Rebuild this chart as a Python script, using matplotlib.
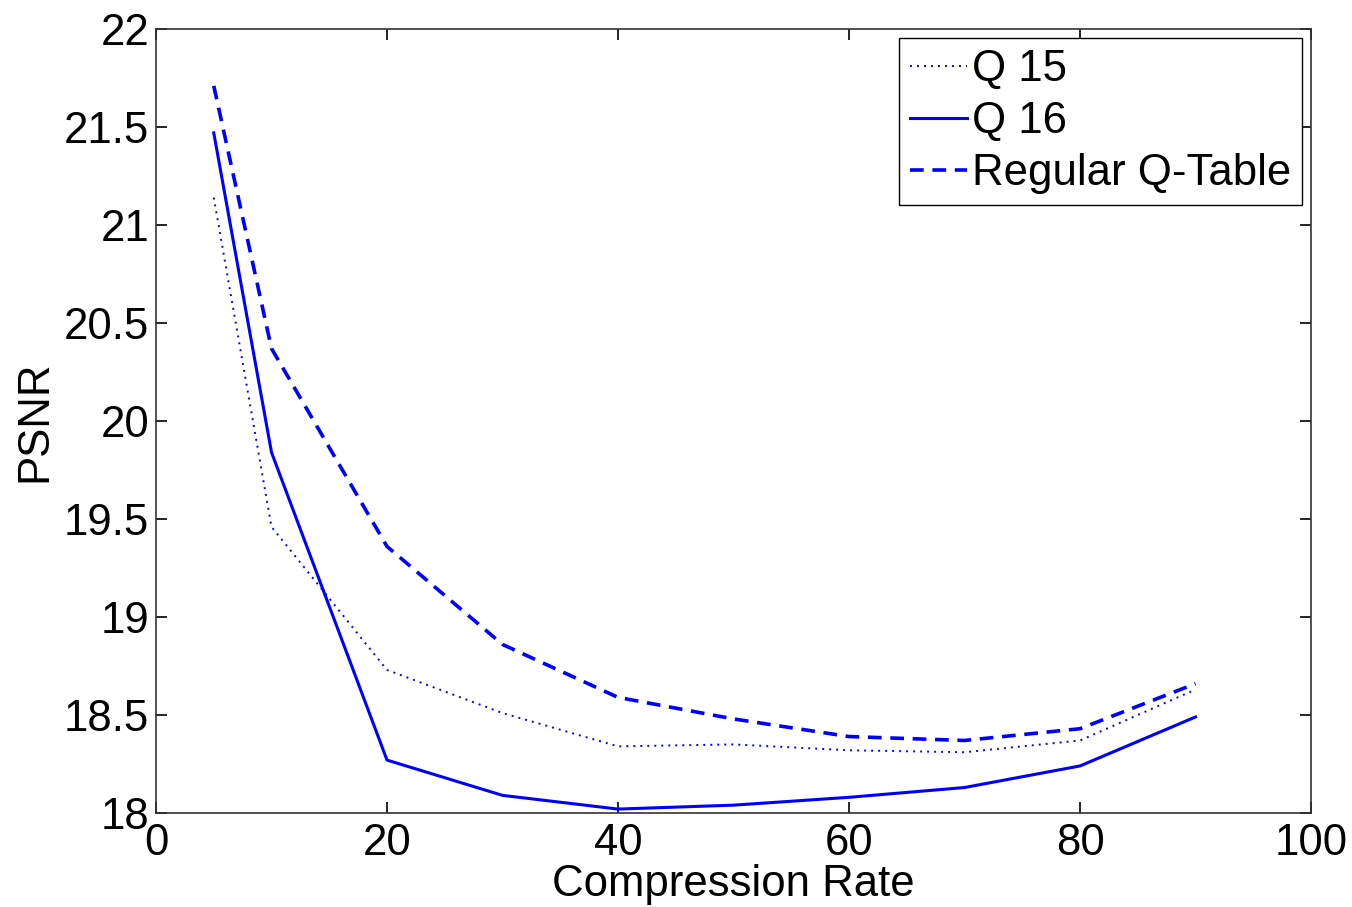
import matplotlib
matplotlib.use('Agg')
import matplotlib.pyplot as plt
from matplotlib.ticker import FuncFormatter

# compression rate vs PSNR for three quantisation tables
rate      = [5, 10, 20, 30, 40, 50, 60, 70, 80, 90]
psnr_q15  = [21.14, 19.46, 18.73, 18.51, 18.34, 18.35, 18.32, 18.31, 18.37, 18.63]
psnr_q16  = [21.47, 19.84, 18.27, 18.09, 18.02, 18.04, 18.08, 18.13, 18.24, 18.49]
psnr_reg  = [21.71, 20.37, 19.36, 18.86, 18.59, 18.48, 18.39, 18.37, 18.43, 18.66]
labels    = ['Q 15', 'Q 16', 'Regular Q-Table']

plt.rcParams['font.family'] = ['Liberation Sans', 'DejaVu Sans']
FS = 31.5

fig = plt.figure(figsize=(13.52, 9.07), dpi=100)
ax = fig.add_axes([156/1352, 1 - 813/907, (1311 - 156)/1352, (813 - 29)/907])

ax.plot(rate, psnr_q15, color='#0000ff', linewidth=1.4, linestyle=(0, (1, 2.6)), label=labels[0])
ax.plot(rate, psnr_q16, color='#0000ff', linewidth=2.2, linestyle='-', label=labels[1])
ax.plot(rate, psnr_reg, color='#0000ff', linewidth=2.6, linestyle=(0, (3.8, 2.4)), label=labels[2])

ax.set_xlim(0, 100)
ax.set_ylim(18, 22)
ax.set_xticks([0, 20, 40, 60, 80, 100])
ax.set_yticks([18, 18.5, 19, 19.5, 20, 20.5, 21, 21.5, 22])
ax.yaxis.set_major_formatter(FuncFormatter(lambda v, p: f'{v:g}'))

ax.tick_params(direction='in', length=8, width=1.2, labelsize=FS, pad=5,
               top=True, right=True, colors='black')
ax.tick_params(axis='x', pad=7)
for spine in ax.spines.values():
    spine.set_linewidth(1.2)
    spine.set_edgecolor('#333333')

ax.set_xlabel('Compression Rate', fontsize=FS, labelpad=0)
ax.set_ylabel('PSNR', fontsize=FS, labelpad=6)

leg = ax.legend(loc='upper right', fontsize=FS, handlelength=1.3, handletextpad=0.1,
                labelspacing=0.25, borderaxespad=0.2, borderpad=0.26,
                fancybox=False, framealpha=1, edgecolor='black')
leg.get_frame().set_linewidth(1.0)

fig.savefig('out.png', dpi=100, facecolor='white')
